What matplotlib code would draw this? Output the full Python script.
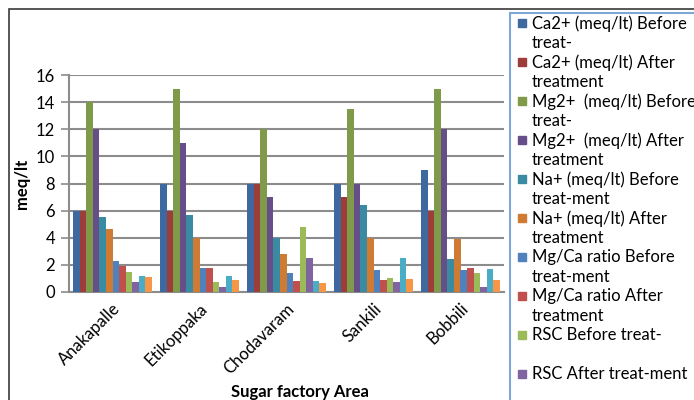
import numpy as np
import matplotlib.pyplot as plt
from matplotlib.patches import Rectangle

plt.rcParams['font.family'] = ['Lato', 'DejaVu Sans']

# Areas and parameters
areas = ['Anakapalle', 'Etikoppaka', 'Chodavaram', 'Sankili', 'Bobbili']

series_labels = [
    'Ca2+ (meq/lt) Before\ntreat-',
    'Ca2+ (meq/lt) After\ntreatment',
    'Mg2+  (meq/lt) Before\ntreat-',
    'Mg2+  (meq/lt) After\ntreatment',
    'Na+ (meq/lt) Before\ntreat-ment',
    'Na+ (meq/lt) After\ntreatment',
    'Mg/Ca ratio Before\ntreat-ment',
    'Mg/Ca ratio After\ntreatment',
    'RSC Before treat-',
    'RSC After treat-ment',
    'SAR Before treat-ment',
    'SAR After treatment',
]

ca_before = [6, 8, 8, 8, 9]
ca_after = [6, 6, 8, 7, 6]
mg_before = [14, 15, 12, 13.5, 15]
mg_after = [12, 11, 7, 8, 12]
na_before = [5.55, 5.7, 4.0, 6.45, 2.4]
na_after = [4.65, 3.95, 2.8, 4.0, 3.9]
mgca_before = [2.25, 1.8, 1.4, 1.65, 1.6]
mgca_after = [1.95, 1.75, 0.8, 0.9, 1.75]
rsc_before = [1.45, 0.75, 4.8, 1.0, 1.4]
rsc_after = [0.75, 0.4, 2.5, 0.75, 0.4]
sar_before = [1.2, 1.2, 0.8, 2.5, 1.7]
sar_after = [1.1, 0.9, 0.7, 0.95, 0.9]

series_values = [ca_before, ca_after, mg_before, mg_after, na_before, na_after,
                 mgca_before, mgca_after, rsc_before, rsc_after, sar_before, sar_after]

colors = ['#3E68A0', '#9D3D3A', '#7F9A48', '#664F88', '#3A8BA2', '#D07B34',
          '#4F81BD', '#C0504D', '#9BBB59', '#8064A2', '#4BACC6', '#F79646']

W, H = 694, 400
fig = plt.figure(figsize=(W / 100, H / 100), dpi=100)
ax = fig.add_axes([69 / W, 1 - 292 / H, (504 - 69) / W, (292 - 75) / H])

x = np.arange(len(areas))
n = len(series_values)
bw = 0.9 / n
for i, (vals, c) in enumerate(zip(series_values, colors)):
    ax.bar(x + (i - (n - 1) / 2) * bw, vals, width=bw, color=c, zorder=3)

ax.set_xlim(-0.5, len(areas) - 0.5)
ax.set_ylim(0, 16)
ax.set_yticks(np.arange(0, 17, 2))
ax.yaxis.grid(True, color='#8c8c8c', linewidth=1.5, zorder=0)
ax.set_axisbelow(True)
for s in ['top', 'right']:
    ax.spines[s].set_visible(False)
ax.spines['left'].set_color('#8c8c8c')
ax.spines['bottom'].set_color('#8c8c8c')
ax.spines['left'].set_linewidth(1.5)
ax.spines['bottom'].set_linewidth(1.5)
ax.tick_params(axis='y', length=6, color='#8c8c8c', width=1.2, labelsize=12, pad=4)
ax.tick_params(axis='x', length=0, labelsize=12, pad=6)
ax.set_xticks(x)
ax.set_xticklabels(areas, rotation=45, ha='right', rotation_mode='anchor')

ax.set_ylabel('meq/lt', fontsize=12, fontweight='bold', labelpad=4)
fig.text(300 / W, 1 - 392 / H, 'Sugar factory Area', fontsize=12, fontweight='bold',
         ha='center', va='center')

# outer chart frame
fig.patches.append(Rectangle((9 / W, -0.2), 1.2, 1.2 - 9 / H, transform=fig.transFigure,
                             fill=False, edgecolor='#3a3a3a', linewidth=1.2))

# legend box, running past the figure edge
fig.patches.append(Rectangle((510 / W, -0.3), 0.5, 1.3 - 13 / H, transform=fig.transFigure,
                             fill=False, edgecolor='#7ea6d8', linewidth=1.5))
for i, (lab, c) in enumerate(zip(series_labels, colors)):
    yc = 23 + 39 * i
    if yc + 10 > H:
        break
    fig.patches.append(Rectangle((518 / W, 1 - (yc + 4) / H), 8 / W, 8 / H,
                                 transform=fig.transFigure, color=c))
    fig.text(532 / W, 1 - (yc - 8) / H, lab, fontsize=12, ha='left', va='top',
             linespacing=1.3)

fig.savefig('out.png', dpi=100)
